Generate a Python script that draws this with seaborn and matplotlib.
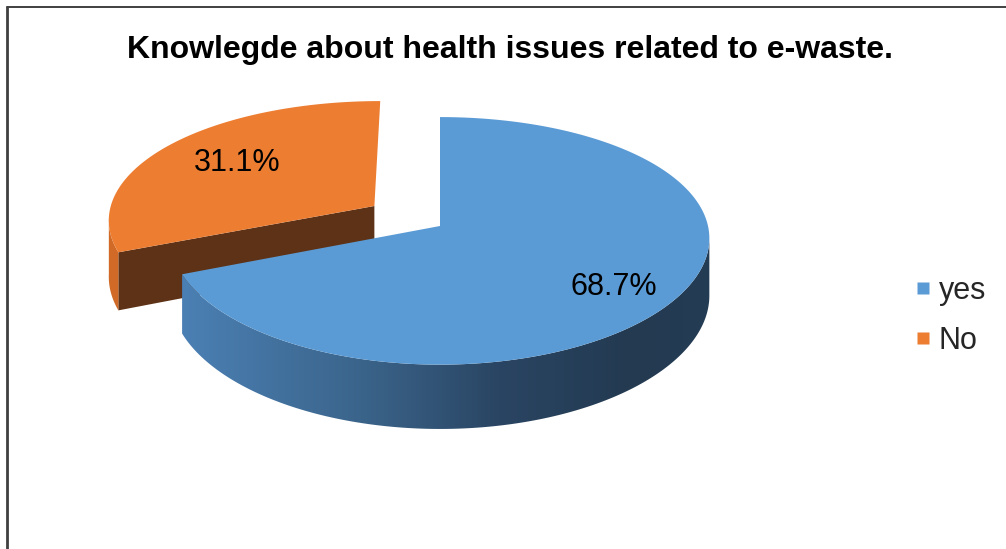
import numpy as np
import matplotlib
matplotlib.use("Agg")
import matplotlib.pyplot as plt
import seaborn as sns
from matplotlib.patches import Polygon
from matplotlib.lines import Line2D
from matplotlib.colors import LinearSegmentedColormap

# ---- data ----
categories = ["yes", "No"]
percent = [68.7, 31.1]
value_labels = ["68.7%", "31.1%"]
title = "Knowlegde about health issues related to e-waste."

# ---- style ----
top_colors = ["#5b9bd5", "#ed7d31"]
wall_colors = [["#4b80b4", "#3a6389", "#2a4563", "#233a51", "#243c54"], ["#d06a26"]]
cut_colors = ["#2f5273", "#5e3216"]
explode = [0.0, 0.3]
label_radius = [0.75, 0.66]
label_nudge = [7.0, -2.0]   # vertical pixel nudge of the value labels

sns.set_theme(style="white")
plt.rcParams["font.family"] = ["Liberation Sans", "DejaVu Sans"]

W, H = 1006, 549
fig = plt.figure(figsize=(W / 100, H / 100), dpi=100)
ax = fig.add_axes([0, 0, 1, 1])
ax.set_xlim(0, W)
ax.set_ylim(H, 0)
ax.axis("off")

# 3-D pie projection (pixel space of the axes)
CX, CY = 440.0, 226.0
KX, KY = 268.0, 122.0
PX, PY = 0.10, 0.12
DEPTH = 56.6

# angles (clockwise from 12 o'clock) where the side wall meets the outline
WALL_FROM = np.arccos(-PX)
WALL_TO = 2 * np.pi - WALL_FROM


def project(x, y, z=0.0):
    x = np.asarray(x, dtype=float)
    y = np.asarray(y, dtype=float)
    X = CX + KX * x / (1 - PX * y)
    Y = CY + (KY * y + DEPTH * z) / (1 - PY * y)
    return X, Y


def poly_points(xs, ys, z):
    X, Y = project(xs, ys, z)
    return np.column_stack([X, Y])


frac = np.array(percent) / np.sum(percent)
edges = np.concatenate([[0.0], np.cumsum(frac)]) * 2 * np.pi

slices = []
for i in range(len(percent)):
    a0, a1 = edges[i], edges[i + 1]
    mid = 0.5 * (a0 + a1)
    ox, oy = explode[i] * np.sin(mid), -explode[i] * np.cos(mid)
    slices.append((i, a0, a1, mid, ox, oy))

# far slices first
slices.sort(key=lambda s: -np.cos(s[3]) + s[5])

for k, (i, a0, a1, mid, ox, oy) in enumerate(slices):
    base = 2 + 4 * k

    # radial cut faces that face the viewer
    for a, sgn in ((a0, -1), (a1, 1)):
        if sgn * np.sin(a) > 1e-6:
            ex, ey = ox + np.sin(a), oy - np.cos(a)
            pts = np.vstack([
                poly_points([ox, ex], [oy, ey], 0.0),
                poly_points([ex, ox], [ey, oy], 1.0),
            ])
            ax.add_patch(Polygon(pts, closed=True, facecolor=cut_colors[i],
                                 edgecolor="none", zorder=base))

    # visible part of the outer wall
    w0, w1 = max(a0, WALL_FROM), min(a1, WALL_TO)
    if w1 > w0:
        tw = np.linspace(w0, w1, 300)
        wx, wy = ox + np.sin(tw), oy - np.cos(tw)
        wall = np.vstack([poly_points(wx, wy, 0.0),
                          poly_points(wx[::-1], wy[::-1], 1.0)])
        if len(wall_colors[i]) > 1:
            patch = Polygon(wall, closed=True, facecolor="none", edgecolor="none",
                            zorder=base + 1)
            ax.add_patch(patch)
            cmap = LinearSegmentedColormap.from_list(
                "wall", list(zip([0.0, 0.35, 0.6, 0.85, 1.0], wall_colors[i])))
            x_lo, x_hi = wall[:, 0].min(), wall[:, 0].max()
            y_lo, y_hi = wall[:, 1].min(), wall[:, 1].max()
            grad = np.linspace(0, 1, 256).reshape(1, -1)
            im = ax.imshow(grad, cmap=cmap, aspect="auto",
                           extent=[x_lo, x_hi, y_hi, y_lo], zorder=base + 1,
                           interpolation="bilinear")
            im.set_clip_path(patch)
        else:
            ax.add_patch(Polygon(wall, closed=True, facecolor=wall_colors[i][0],
                                 edgecolor="none", zorder=base + 1))

    # top face
    th = np.linspace(a0, a1, 400)
    arc_x, arc_y = ox + np.sin(th), oy - np.cos(th)
    top = np.vstack([poly_points([ox], [oy], 0.0), poly_points(arc_x, arc_y, 0.0)])
    ax.add_patch(Polygon(top, closed=True, facecolor=top_colors[i],
                         edgecolor="none", zorder=base + 2))

    # value label
    r = label_radius[i]
    lx, ly = project(ox + r * np.sin(mid), oy - r * np.cos(mid), 0.0)
    ax.text(float(lx), float(ly) + label_nudge[i], value_labels[i],
            ha="center", va="center", fontsize=22, color="black", zorder=20)

ax.set_xlim(0, W)
ax.set_ylim(H, 0)

# title
fig.text(510 / W, 1 - 50 / H, title, ha="center", va="center",
         fontsize=23, fontweight="bold", color="black")

# legend
handles = [Line2D([0], [0], marker="s", linestyle="none", markersize=8.8,
                  markerfacecolor=c, markeredgecolor="none") for c in top_colors]
fig.legend(handles, categories, loc="center left",
           bbox_to_anchor=(915 / W, 1 - 316 / H), frameon=False,
           fontsize=22, handlelength=0.55, handletextpad=0.22,
           labelspacing=0.65, borderpad=0, borderaxespad=0)

# chart frame
fig.add_artist(Line2D([6.8 / W, 6.8 / W], [0, 1 - 7 / H], transform=fig.transFigure,
                      color="#404040", lw=2.0))
fig.add_artist(Line2D([6.8 / W, 1], [1 - 7 / H, 1 - 7 / H], transform=fig.transFigure,
                      color="#404040", lw=1.4))

fig.savefig("out.png", dpi=100, facecolor="white")
